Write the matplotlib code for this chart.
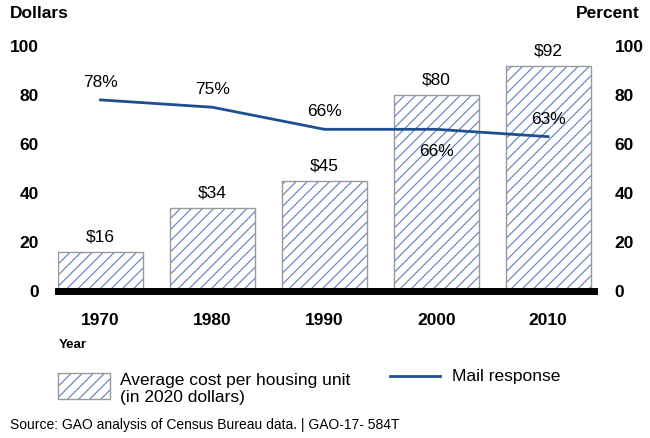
import matplotlib
matplotlib.use("Agg")
import matplotlib.pyplot as plt
from matplotlib.patches import Rectangle
from matplotlib.lines import Line2D

plt.rcParams['font.family'] = ['Liberation Sans', 'DejaVu Sans']
plt.rcParams['hatch.linewidth'] = 0.8

years = ['1970', '1980', '1990', '2000', '2010']
cost = [16, 34, 45, 80, 92]
mail = [78, 75, 66, 66, 63]
cost_labels = ['$16', '$34', '$45', '$80', '$92']
mail_labels = ['78%', '75%', '66%', '66%', '63%']
yticks = [0, 20, 40, 60, 80, 100]

hatch_blue = '#5b7fc0'
line_blue = '#1f4f91'

fig = plt.figure(figsize=(6.5, 4.38), dpi=100)
ax = fig.add_axes([58/650, 1-291/438, (594-58)/650, (291-46)/438])
x = list(range(len(years)))
w = 0.76

# hatch layer, then outline layer
ax.bar(x, cost, w, color='white', edgecolor=hatch_blue, hatch='///', linewidth=0, zorder=2)
ax.bar(x, cost, w, color='none', edgecolor='#999999', linewidth=1.0, zorder=3)
for i, v in enumerate(cost):
    ax.text(i, v + 3, cost_labels[i], ha='center', va='bottom', fontsize=12.5)

ax.set_xlim(-w/2, 4 + w/2 + 0.03)
ax.set_ylim(0, 100)
ax.axhline(0, color='black', lw=5, zorder=4, clip_on=False)

ax2 = ax.twinx()
ax2.set_ylim(0, 100)
ax2.plot(x, mail, color=line_blue, lw=2, zorder=5)
offs = [4, 4, 4, -6, 4]
for i, v in enumerate(mail):
    ax2.text(i, v + offs[i], mail_labels[i], ha='center',
             va='bottom' if offs[i] > 0 else 'top', fontsize=12.5)

for a in (ax, ax2):
    for s in a.spines.values():
        s.set_visible(False)
    a.set_yticks(yticks)
    a.tick_params(length=0, labelsize=12.5)
    for t in a.get_yticklabels():
        t.set_fontweight('bold')
ax.tick_params(axis='y', pad=14)
ax2.tick_params(axis='y', pad=15)
ax.set_xticks(x)
ax.set_xticklabels(years, fontweight='bold')
ax.tick_params(axis='x', pad=16)

fig.text(10/650, 1-13/438, 'Dollars', fontsize=12.5, fontweight='bold', va='center')
fig.text(640/650, 1-13/438, 'Percent', fontsize=12.5, fontweight='bold', va='center', ha='right')
fig.text(59/650, 1-345/438, 'Year', fontsize=9.5, fontweight='bold', va='center')

# legend
fig.patches.append(Rectangle((58/650, 1-399/438), 52/650, 26/438, transform=fig.transFigure,
                             facecolor='white', edgecolor=hatch_blue, hatch='///', linewidth=0))
fig.patches.append(Rectangle((58/650, 1-399/438), 52/650, 26/438, transform=fig.transFigure,
                             facecolor='none', edgecolor='#999999', linewidth=1.0))
fig.text(120/650, 1-389/438, 'Average cost per housing unit\n(in 2020 dollars)', fontsize=12.5,
         va='center', linespacing=1.2)
fig.lines.append(Line2D([390/650, 440/650], [1-376/438, 1-376/438], transform=fig.transFigure,
                        color=line_blue, lw=2))
fig.text(452/650, 1-377/438, 'Mail response', fontsize=12.5, va='center')
fig.text(10/650, 1-425/438, 'Source: GAO analysis of Census Bureau data. | GAO-17- 584T',
         fontsize=10, va='center')

fig.savefig('out.png', dpi=100)
